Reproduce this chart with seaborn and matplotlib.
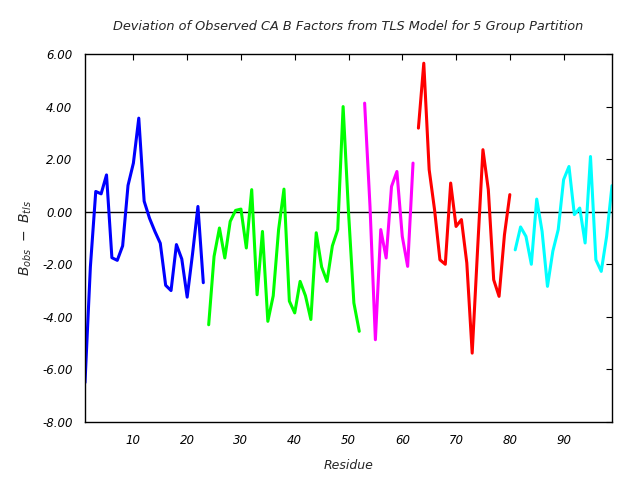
import numpy as np
import pandas as pd
import matplotlib
matplotlib.use("Agg")
import matplotlib.pyplot as plt
import seaborn as sns

# Data: residue numbers and deviations per TLS group
res_g1 = list(range(1, 24))
dev_g1 = [-6.5, -2.1, 0.77, 0.68, 1.4, -1.75, -1.85, -1.3, 1.0, 1.85, 3.56, 0.4,
          -0.25, -0.75, -1.2, -2.8, -3.0, -1.25, -1.8, -3.25, -1.6, 0.2, -2.7]
res_g2 = list(range(24, 53))
dev_g2 = [-4.3, -1.7, -0.62, -1.76, -0.37, 0.05, 0.1, -1.38, 0.84, -3.16, -0.75,
          -4.17, -3.2, -0.68, 0.86, -3.4, -3.85, -2.65, -3.2, -4.1, -0.8, -2.1,
          -2.65, -1.3, -0.68, 4.0, 0.0, -3.47, -4.55]
res_g3 = list(range(53, 63))
dev_g3 = [4.13, 0.2, -4.87, -0.68, -1.76, 0.96, 1.53, -0.94, -2.08, 1.85]
res_g4 = list(range(63, 81))
dev_g4 = [3.18, 5.65, 1.6, 0.08, -1.83, -2.0, 1.09, -0.56, -0.3, -1.95, -5.38,
          -1.45, 2.36, 0.84, -2.59, -3.22, -0.88, 0.65]
res_g5 = list(range(81, 100))
dev_g5 = [-1.45, -0.58, -0.94, -2.0, 0.48, -0.75, -2.84, -1.5, -0.68, 1.22, 1.72,
          -0.11, 0.14, -1.19, 2.1, -1.83, -2.27, -0.94, 0.99]

groups = ["g1", "g2", "g3", "g4", "g5"]
colors = {"g1": "#0000ff", "g2": "#00ff00", "g3": "#ff00ff", "g4": "#ff0000", "g5": "#00ffff"}

df = pd.concat([
    pd.DataFrame({"Residue": r, "Dev": d, "Group": g})
    for r, d, g in zip([res_g1, res_g2, res_g3, res_g4, res_g5],
                       [dev_g1, dev_g2, dev_g3, dev_g4, dev_g5], groups)
], ignore_index=True)

xticks = [10, 20, 30, 40, 50, 60, 70, 80, 90]
yticks = [-8, -6, -4, -2, 0, 2, 4, 6]

sns.set_style("white")
plt.rcParams["font.family"] = ["DejaVu Sans"]
plt.rcParams["axes.unicode_minus"] = False

fig = plt.figure(figsize=(6.4, 4.8), dpi=100)
ax = fig.add_axes([85/640, 1 - 422/480, (612-85)/640, (422-54)/480])

ax.axhline(0, color="black", linewidth=1.0, zorder=1)
sns.lineplot(data=df, x="Residue", y="Dev", hue="Group", palette=colors,
             linewidth=2.2, legend=False, ax=ax, zorder=2, estimator=None, sort=False)

ax.set_xlim(1, 99)
ax.set_ylim(-8, 6)
ax.set_xticks(xticks)
ax.set_yticks(yticks)
ax.set_yticklabels([f"{v:.2f}" for v in yticks])
ax.tick_params(direction="in", top=True, right=True, length=4, width=0.8,
               labelsize=8.5, pad=9, colors="black")
for lab in ax.get_xticklabels() + ax.get_yticklabels():
    lab.set_fontstyle("italic")
for s in ax.spines.values():
    s.set_color("black")
    s.set_linewidth(1.0)

ax.set_xlabel("Residue", fontsize=9, fontstyle="italic", labelpad=8)
ax.set_ylabel(r"$B_{obs}\ -\ B_{tls}$", fontsize=10, labelpad=6)
ax.set_title("Deviation of Observed CA B Factors from TLS Model for 5 Group Partition",
             fontsize=9.3, fontstyle="italic", pad=17)

fig.savefig("out.png", dpi=100)
